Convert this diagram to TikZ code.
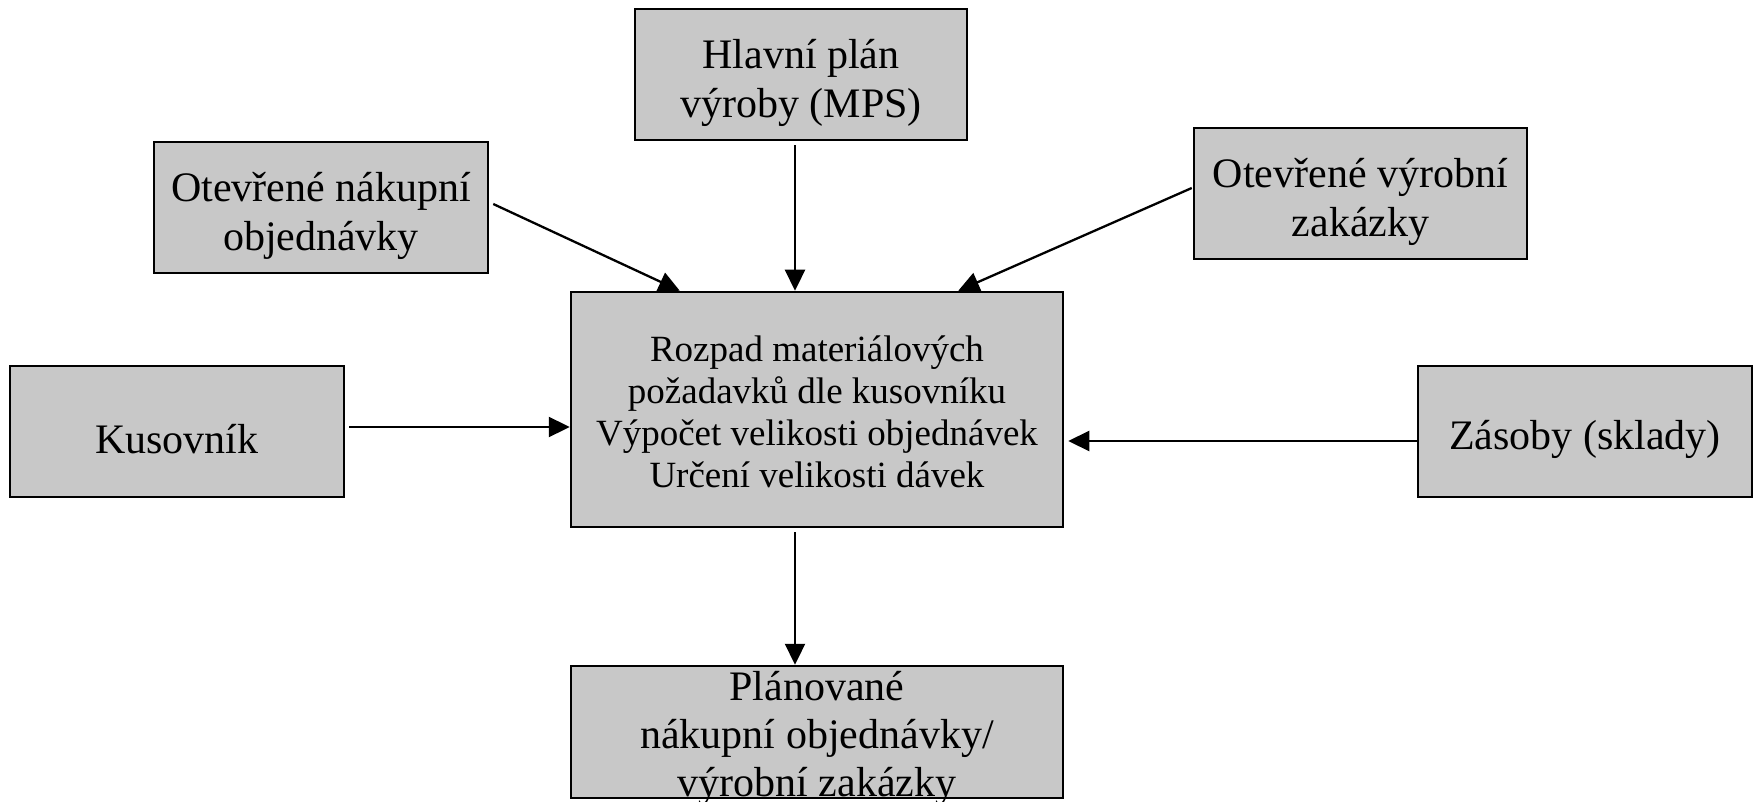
\documentclass[tikz,border=0pt]{standalone}
\usepackage{fontspec}
\setmainfont{Liberation Serif}
\usetikzlibrary{arrows.meta,calc}
\definecolor{boxgray}{RGB}{200,200,200}
\tikzset{
  box/.style={draw=black, line width=2.5pt, fill=boxgray, inner sep=0pt},
  txt/.style={inner sep=0pt, align=center, font=\fontsize{42}{49}\selectfont, yshift=-8pt},
  smalltxt/.style={txt, font=\fontsize{37}{42}\selectfont, yshift=6pt},
  conn/.style={line width=2.3pt, -{Triangle[length=21pt,width=20pt]}},
}
\begin{document}
\begin{tikzpicture}[x=1pt,y=-1pt]
\useasboundingbox[fill=white] (0,0) rectangle (1755,802);
\node[box, minimum width=332pt, minimum height=131pt,
  label={[txt]center:{Hlavní plán\\výroby (MPS)}}] (mps) at (801,74.5) {};
\node[box, minimum width=334pt, minimum height=131pt,
  label={[txt]center:{Otevřené nákupní\\objednávky}}] (nak) at (321,207.5) {};
\node[box, minimum width=333pt, minimum height=131pt,
  label={[txt]center:{Otevřené výrobní\\zakázky}}] (vyr) at (1360.5,193.5) {};
\node[box, minimum width=492pt, minimum height=235pt,
  label={[smalltxt]center:{Rozpad materiálových\\požadavků dle kusovníku\\Výpočet velikosti objednávek\\Určení velikosti dávek}}] (mid) at (817,409.5) {};
\node[box, minimum width=334pt, minimum height=131pt,
  label={[txt]center:{Kusovník}}] (kus) at (177,431.5) {};
\node[box, minimum width=334pt, minimum height=131pt,
  label={[txt]center:{Zásoby (sklady)}}] (zas) at (1585,431.5) {};
\node[box, minimum width=492pt, minimum height=132pt,
  label={[txt, font=\fontsize{42}{48}\selectfont, yshift=2pt]center:{Plánované\\nákupní objednávky/\\výrobní zakázky}}] (plan) at (817,732) {};
\draw[conn] ($(mps.south)+(-6,4)$) -- ($(mid.north)+(-22,0)$);
\draw[conn] ($(nak.east)+(4,-3.5)$) -- ($(mid.north west)+(110,0)$);
\draw[conn] ($(vyr.west)+(-1,-5.5)$) -- ($(mid.north east)+(-106,0)$);
\draw[conn] ($(kus.east)+(4,-4.5)$) -- ($(mid.west)+(0,17.5)$);
\draw[conn] ($(zas.west)+(0,9.5)$) -- ($(mid.east)+(4,31.5)$);
\draw[conn] ($(mid.south)+(-22,4)$) -- ($(plan.north)+(-22,0)$);
\end{tikzpicture}
\end{document}
